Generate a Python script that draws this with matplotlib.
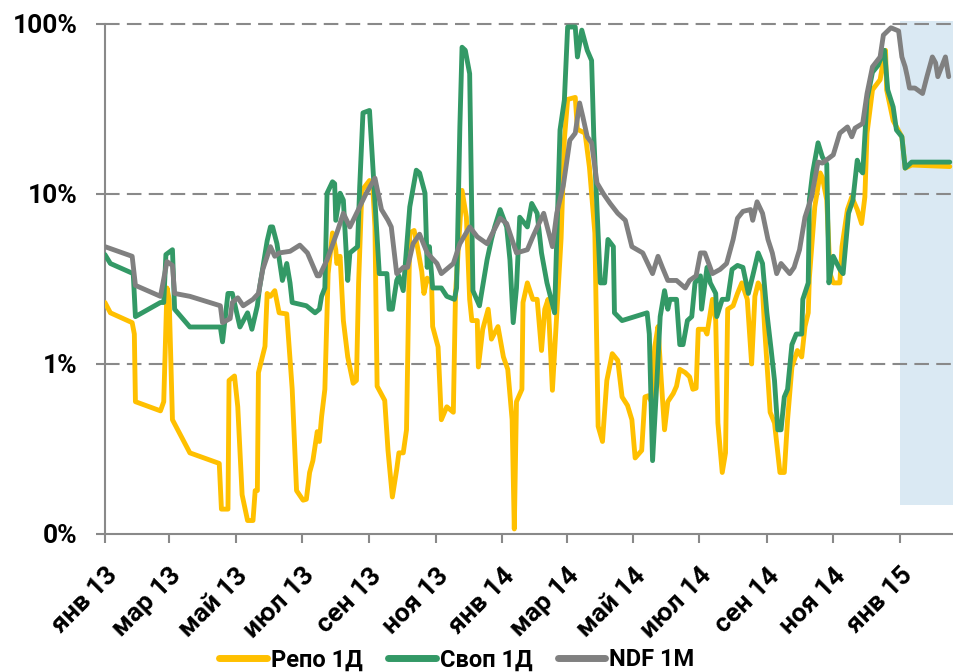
import matplotlib
matplotlib.use('Agg')
import matplotlib.pyplot as plt
import pandas as pd
from matplotlib.ticker import FixedLocator, NullLocator

plt.rcParams['font.family'] = ['Roboto', 'DejaVu Sans']
plt.rcParams['font.weight'] = 'bold'

# ── colours ───────────────────────────────────────────────
REPO_C  = '#FFC000'
SWAP_C  = '#339966'
NDF_C   = '#808080'
AXIS_C  = '#898989'
SHADE_C = '#DAE9F3'

# ── data (% годовых, лог. шкала) ──────────────────────────
ndf_dates = [
    '2013-01-01', '2013-01-26', '2013-01-29', '2013-02-21', '2013-02-27', '2013-03-04',
    '2013-03-06', '2013-03-20', '2013-04-17', '2013-04-19', '2013-04-26', '2013-04-28',
    '2013-05-03', '2013-05-08', '2013-05-17', '2013-05-22', '2013-05-26', '2013-06-02',
    '2013-06-06', '2013-06-10', '2013-06-20', '2013-06-29', '2013-07-06', '2013-07-15',
    '2013-07-17', '2013-07-24', '2013-08-02', '2013-08-08', '2013-08-14', '2013-08-23',
    '2013-08-29', '2013-09-06', '2013-09-12', '2013-09-18', '2013-09-21', '2013-09-26',
    '2013-10-02', '2013-10-06', '2013-10-11', '2013-10-17', '2013-10-24', '2013-11-02',
    '2013-11-06', '2013-11-17', '2013-11-23', '2013-12-02', '2013-12-09', '2013-12-18',
    '2013-12-30', '2014-01-05', '2014-01-14', '2014-01-24', '2014-01-29', '2014-02-08',
    '2014-02-16', '2014-02-20', '2014-02-26', '2014-03-04', '2014-03-09', '2014-03-13',
    '2014-03-16', '2014-03-20', '2014-03-24', '2014-03-29', '2014-04-04', '2014-04-10',
    '2014-04-17', '2014-04-24', '2014-04-30', '2014-05-10', '2014-05-19', '2014-05-24',
    '2014-05-28', '2014-06-02', '2014-06-10', '2014-06-18', '2014-06-22', '2014-06-28',
    '2014-07-02', '2014-07-06', '2014-07-13', '2014-07-20', '2014-07-26', '2014-08-01',
    '2014-08-05', '2014-08-10', '2014-08-17', '2014-08-19', '2014-08-23', '2014-08-28',
    '2014-09-02', '2014-09-06', '2014-09-10', '2014-09-14', '2014-09-22', '2014-09-26',
    '2014-10-01', '2014-10-06', '2014-10-12', '2014-10-18', '2014-10-22', '2014-11-01',
    '2014-11-07', '2014-11-14', '2014-11-18', '2014-11-21', '2014-11-28', '2014-12-02',
    '2014-12-07', '2014-12-14', '2014-12-17', '2014-12-24', '2014-12-31', '2015-01-03',
    '2015-01-06', '2015-01-08', '2015-01-10', '2015-01-15', '2015-01-22', '2015-01-26',
    '2015-01-31', '2015-02-03', '2015-02-05', '2015-02-12', '2015-02-15',
]
ndf_vals = [
    4.9, 4.3, 2.9, 2.5, 4.0, 3.8,
    2.6, 2.5, 2.2, 1.75, 1.85, 2.3,
    2.45, 2.2, 2.4, 2.6, 3.6, 4.9,
    4.3, 4.5, 4.6, 5.0, 4.5, 3.3,
    3.3, 4.1, 5.9, 7.7, 6.4, 8.4,
    10.1, 12.4, 8.1, 7.0, 6.4, 3.4,
    3.7, 3.7, 5.1, 5.8, 4.5, 3.9,
    3.4, 3.9, 5.1, 6.4, 5.6, 5.1,
    7.2, 6.7, 4.5, 4.7, 5.6, 7.7,
    4.9, 7.7, 11.2, 20.7, 22.8, 34.3,
    28.4, 21.7, 20.0, 11.6, 10.0, 8.8,
    7.7, 7.0, 4.9, 4.5, 3.4, 4.3,
    3.7, 3.1, 3.1, 2.8, 3.1, 3.3,
    4.5, 4.5, 3.4, 3.6, 3.9, 5.4,
    7.2, 7.9, 8.1, 7.0, 9.0, 7.7,
    5.4, 4.5, 3.4, 3.9, 3.4, 3.7,
    4.7, 7.3, 9.6, 15.4, 15.2, 17.0,
    22.8, 24.8, 21.7, 24.4, 26.0, 39.0,
    56.0, 64.0, 86.0, 95.0, 91.0, 64.0,
    56.0, 49.0, 42.0, 42.0, 39.0, 49.0,
    64.0, 59.0, 49.0, 64.0, 49.0,
]

swap_dates = [
    '2013-01-01', '2013-01-06', '2013-01-27', '2013-01-29', '2013-02-21', '2013-02-24',
    '2013-02-26', '2013-03-04', '2013-03-06', '2013-03-20', '2013-04-17', '2013-04-19',
    '2013-04-24', '2013-04-28', '2013-05-05', '2013-05-12', '2013-05-16', '2013-05-21',
    '2013-05-23', '2013-05-30', '2013-06-02', '2013-06-04', '2013-06-08', '2013-06-13',
    '2013-06-17', '2013-06-20', '2013-06-22', '2013-07-05', '2013-07-13', '2013-07-17',
    '2013-07-19', '2013-07-22', '2013-07-24', '2013-07-29', '2013-07-31', '2013-08-01',
    '2013-08-05', '2013-08-08', '2013-08-12', '2013-08-14', '2013-08-21', '2013-08-23',
    '2013-08-26', '2013-09-01', '2013-09-06', '2013-09-10', '2013-09-17', '2013-09-19',
    '2013-09-22', '2013-09-26', '2013-09-28', '2013-10-02', '2013-10-08', '2013-10-14',
    '2013-10-17', '2013-10-22', '2013-10-24', '2013-10-26', '2013-10-29', '2013-11-06',
    '2013-11-11', '2013-11-18', '2013-11-20', '2013-11-23', '2013-11-25', '2013-11-28',
    '2013-12-02', '2013-12-05', '2013-12-11', '2013-12-18', '2013-12-22', '2013-12-25',
    '2013-12-30', '2014-01-05', '2014-01-08', '2014-01-11', '2014-01-14', '2014-01-17',
    '2014-01-24', '2014-01-28', '2014-02-02', '2014-02-06', '2014-02-11', '2014-02-18',
    '2014-02-23', '2014-02-27', '2014-03-02', '2014-03-09', '2014-03-11', '2014-03-15',
    '2014-03-20', '2014-03-24', '2014-03-26', '2014-04-01', '2014-04-05', '2014-04-08',
    '2014-04-13', '2014-04-14', '2014-04-21', '2014-05-14', '2014-05-16', '2014-05-19',
    '2014-05-23', '2014-05-26', '2014-05-30', '2014-06-02', '2014-06-04', '2014-06-10',
    '2014-06-13', '2014-06-16', '2014-06-20', '2014-06-24', '2014-06-27', '2014-07-02',
    '2014-07-03', '2014-07-08', '2014-07-11', '2014-07-16', '2014-07-17', '2014-07-22',
    '2014-07-27', '2014-07-31', '2014-08-05', '2014-08-10', '2014-08-15', '2014-08-19',
    '2014-08-24', '2014-08-28', '2014-09-01', '2014-09-05', '2014-09-08', '2014-09-11',
    '2014-09-14', '2014-09-17', '2014-09-20', '2014-09-24', '2014-09-28', '2014-10-03',
    '2014-10-04', '2014-10-09', '2014-10-10', '2014-10-13', '2014-10-18', '2014-10-22',
    '2014-10-26', '2014-10-28', '2014-11-01', '2014-11-07', '2014-11-10', '2014-11-15',
    '2014-11-19', '2014-11-23', '2014-11-26', '2014-11-28', '2014-12-02', '2014-12-07',
    '2014-12-12', '2014-12-18', '2014-12-21', '2014-12-26', '2014-12-29', '2015-01-03',
    '2015-01-06', '2015-01-12', '2015-02-16',
]
swap_vals = [
    4.4, 3.9, 3.4, 1.9, 2.3, 2.3,
    4.4, 4.7, 2.1, 1.65, 1.65, 1.35,
    2.6, 2.6, 1.65, 2.0, 1.6, 2.2,
    2.8, 5.3, 6.4, 6.4, 5.1, 3.1,
    3.9, 3.0, 2.3, 2.2, 2.0, 2.1,
    2.5, 2.8, 10.1, 11.8, 11.5, 7.0,
    10.1, 9.2, 3.1, 4.5, 4.9, 11.0,
    30.0, 31.0, 9.2, 3.4, 3.4, 2.1,
    2.1, 3.1, 3.3, 2.7, 8.4, 13.8,
    13.3, 10.1, 3.7, 4.9, 2.8, 2.8,
    2.5, 2.4, 2.8, 24.8, 73.0, 70.0,
    51.0, 2.7, 2.2, 4.1, 5.4, 6.4,
    8.1, 6.4, 4.1, 1.75, 2.8, 7.3,
    6.4, 8.8, 7.7, 4.5, 3.0, 2.0,
    23.8, 35.7, 96.0, 96.0, 64.0, 92.0,
    70.0, 61.0, 22.0, 3.0, 3.0, 5.4,
    4.9, 2.0, 1.8, 2.0, 1.5, 0.27,
    0.8, 1.9, 2.7, 2.1, 2.4, 2.4,
    1.3, 1.3, 1.8, 1.9, 3.0, 3.3,
    2.1, 3.7, 3.0, 2.6, 1.9, 2.4,
    2.4, 3.6, 3.8, 3.7, 2.6, 3.3,
    4.5, 3.9, 2.0, 1.2, 0.8, 0.41,
    0.41, 0.64, 0.71, 1.3, 1.5, 1.5,
    2.4, 3.0, 9.2, 13.3, 20.0, 16.5,
    15.0, 3.0, 4.3, 3.6, 3.4, 7.7,
    9.2, 15.8, 13.8, 13.3, 36.0, 52.0,
    57.0, 70.0, 41.0, 32.5, 23.8, 21.7,
    14.2, 15.4, 15.4,
]

repo_dates = [
    '2013-01-01', '2013-01-06', '2013-01-26', '2013-01-28', '2013-01-29', '2013-02-21',
    '2013-02-24', '2013-02-27', '2013-03-01', '2013-03-04', '2013-03-20', '2013-04-16',
    '2013-04-18', '2013-04-24', '2013-04-25', '2013-04-30', '2013-05-03', '2013-05-07',
    '2013-05-12', '2013-05-17', '2013-05-19', '2013-05-21', '2013-05-22', '2013-05-28',
    '2013-05-30', '2013-06-02', '2013-06-06', '2013-06-10', '2013-06-17', '2013-06-22',
    '2013-06-26', '2013-07-02', '2013-07-05', '2013-07-08', '2013-07-11', '2013-07-15',
    '2013-07-17', '2013-07-19', '2013-07-22', '2013-07-25', '2013-07-29', '2013-08-01',
    '2013-08-02', '2013-08-05', '2013-08-08', '2013-08-12', '2013-08-17', '2013-08-20',
    '2013-08-22', '2013-08-25', '2013-09-01', '2013-09-04', '2013-09-06', '2013-09-08',
    '2013-09-15', '2013-09-18', '2013-09-22', '2013-09-26', '2013-09-28', '2013-10-02',
    '2013-10-05', '2013-10-08', '2013-10-12', '2013-10-15', '2013-10-19', '2013-10-21',
    '2013-10-24', '2013-10-28', '2013-10-29', '2013-11-03', '2013-11-06', '2013-11-11',
    '2013-11-17', '2013-11-19', '2013-11-25', '2013-11-29', '2013-12-02', '2013-12-04',
    '2013-12-09', '2013-12-10', '2013-12-14', '2013-12-19', '2013-12-22', '2013-12-28',
    '2014-01-02', '2014-01-06', '2014-01-10', '2014-01-12', '2014-01-14', '2014-01-19',
    '2014-01-20', '2014-01-24', '2014-01-29', '2014-02-02', '2014-02-06', '2014-02-09',
    '2014-02-12', '2014-02-16', '2014-02-21', '2014-02-24', '2014-02-27', '2014-03-02',
    '2014-03-09', '2014-03-11', '2014-03-18', '2014-03-22', '2014-03-27', '2014-03-30',
    '2014-04-03', '2014-04-07', '2014-04-12', '2014-04-17', '2014-04-21', '2014-04-26',
    '2014-04-30', '2014-05-03', '2014-05-09', '2014-05-12', '2014-05-15', '2014-05-18',
    '2014-05-21', '2014-05-24', '2014-05-27', '2014-05-30', '2014-06-02', '2014-06-07',
    '2014-06-10', '2014-06-13', '2014-06-18', '2014-06-22', '2014-06-25', '2014-06-28',
    '2014-06-30', '2014-07-06', '2014-07-08', '2014-07-13', '2014-07-16', '2014-07-18',
    '2014-07-22', '2014-07-25', '2014-07-27', '2014-08-01', '2014-08-05', '2014-08-09',
    '2014-08-14', '2014-08-18', '2014-08-21', '2014-08-24', '2014-08-28', '2014-08-30',
    '2014-09-04', '2014-09-08', '2014-09-13', '2014-09-17', '2014-09-20', '2014-09-24',
    '2014-09-29', '2014-10-03', '2014-10-06', '2014-10-09', '2014-10-10', '2014-10-15',
    '2014-10-20', '2014-10-22', '2014-10-26', '2014-10-29', '2014-11-01', '2014-11-07',
    '2014-11-09', '2014-11-14', '2014-11-18', '2014-11-23', '2014-11-27', '2014-11-30',
    '2014-12-02', '2014-12-05', '2014-12-07', '2014-12-14', '2014-12-17', '2014-12-19',
    '2014-12-20', '2014-12-26', '2015-01-03', '2015-01-06', '2015-01-12', '2015-02-16',
]
repo_vals = [
    2.3, 2.0, 1.75, 1.5, 0.6, 0.53,
    0.6, 2.8, 2.4, 0.47, 0.30, 0.26,
    0.14, 0.14, 0.8, 0.85, 0.56, 0.17,
    0.12, 0.12, 0.18, 0.18, 0.89, 1.27,
    2.6, 2.5, 2.7, 2.0, 1.97, 0.71,
    0.18, 0.158, 0.16, 0.23, 0.27, 0.40,
    0.35, 0.49, 0.71, 3.4, 5.9, 4.7,
    3.9, 4.3, 1.8, 1.1, 0.77, 0.8,
    3.0, 10.5, 12.0, 11.0, 6.4, 0.74,
    0.61, 0.31, 0.165, 0.24, 0.30, 0.30,
    0.41, 5.9, 6.1, 4.9, 3.5, 2.6,
    3.2, 3.0, 1.66, 1.26, 0.47, 0.56,
    0.52, 2.6, 10.5, 7.3, 2.4, 1.8,
    1.8, 0.96, 1.6, 2.1, 1.4, 1.66,
    1.1, 0.93, 0.47, 0.107, 0.6, 0.71,
    2.3, 3.0, 2.4, 2.4, 1.2, 2.1,
    2.4, 0.7, 2.5, 5.5, 21.0, 36.0,
    37.0, 24.0, 22.8, 14.4, 5.9, 0.43,
    0.35, 0.8, 1.15, 1.05, 0.64, 0.57,
    0.47, 0.28, 0.31, 0.64, 0.65, 0.6,
    1.26, 1.66, 0.8, 0.41, 0.6, 0.67,
    0.74, 0.93, 0.89, 0.84, 0.71, 0.72,
    1.6, 1.6, 1.5, 2.4, 1.8, 0.45,
    0.23, 0.30, 2.1, 2.2, 2.6, 3.0,
    2.4, 1.0, 2.5, 3.0, 2.7, 1.6,
    0.52, 0.45, 0.23, 0.23, 0.47, 0.96,
    1.2, 1.1, 1.66, 2.0, 3.2, 8.4,
    13.3, 12.5, 9.2, 3.4, 3.0, 3.0,
    4.9, 8.1, 9.6, 8.1, 6.7, 9.6,
    22.8, 32.5, 41.0, 47.0, 61.0, 70.0,
    41.0, 27.0, 21.7, 14.2, 14.8, 14.5,
]

series_names = ['Репо 1Д', 'Своп 1Д', 'NDF 1M']

tick_dates = pd.date_range('2013-01-01', '2015-01-01', freq='2MS')
tick_labels = ['янв 13', 'мар 13', 'май 13', 'июл 13', 'сен 13', 'ноя 13',
               'янв 14', 'мар 14', 'май 14', 'июл 14', 'сен 14', 'ноя 14', 'янв 15']
y_ticks = [0.1, 1, 10, 100]
y_labels = ['0%', '1%', '10%', '100%']

x_start, x_end = pd.Timestamp('2013-01-01'), pd.Timestamp('2015-02-19')
shade_start = pd.Timestamp('2015-01-01')

# ── figure ────────────────────────────────────────────────
fig = plt.figure(figsize=(9.54, 6.72), dpi=100)
ax = fig.add_axes([0.110, 0.2054, 0.889, 0.7589])

ax.axvspan(shade_start, x_end, ymin=0.057, ymax=1.006,
           color=SHADE_C, lw=0, zorder=0.5, clip_on=False)

for y in y_ticks[1:]:
    ax.axhline(y, color=AXIS_C, lw=1.5, ls=(0, (7, 3.5)), zorder=1, clip_on=False)

line_kw = dict(lw=3.5, solid_joinstyle='round', solid_capstyle='round')
ax.plot(pd.to_datetime(repo_dates), repo_vals, color=REPO_C, zorder=3,
        label=series_names[0], **line_kw)
ax.plot(pd.to_datetime(swap_dates), swap_vals, color=SWAP_C, zorder=4,
        label=series_names[1], **line_kw)
ax.plot(pd.to_datetime(ndf_dates), ndf_vals, color=NDF_C, zorder=5,
        label=series_names[2], **line_kw)

ax.set_yscale('log')
ax.set_ylim(0.1, 100)
ax.set_xlim(x_start, x_end)

ax.yaxis.set_major_locator(FixedLocator(y_ticks))
ax.yaxis.set_minor_locator(NullLocator())
ax.set_yticklabels(y_labels)
ax.set_xticks(tick_dates)
ax.set_xticklabels(tick_labels)
ax.xaxis.set_minor_locator(NullLocator())

for s in ['top', 'right']:
    ax.spines[s].set_visible(False)
for s in ['left', 'bottom']:
    ax.spines[s].set_color(AXIS_C)
    ax.spines[s].set_linewidth(1.5)

ax.tick_params(axis='both', which='major', direction='out', length=6.2, width=1.5,
               color=AXIS_C, labelsize=19, labelcolor='black')
ax.tick_params(axis='y', pad=13.5)
ax.tick_params(axis='x', pad=15)
plt.setp(ax.get_xticklabels(), rotation=45, ha='right', va='top',
         rotation_mode='anchor', fontweight='bold')
plt.setp(ax.get_yticklabels(), fontweight='bold')

leg = fig.legend(loc='center', bbox_to_anchor=(0.479, 0.018), ncol=3, frameon=False,
                 handlelength=2.03, handletextpad=0.17, columnspacing=1.06,
                 prop={'size': 17, 'weight': 'bold'})
for ln in leg.get_lines():
    ln.set_linewidth(5)
    ln.set_solid_capstyle('round')

fig.savefig('out.png', dpi=100, facecolor='white')
